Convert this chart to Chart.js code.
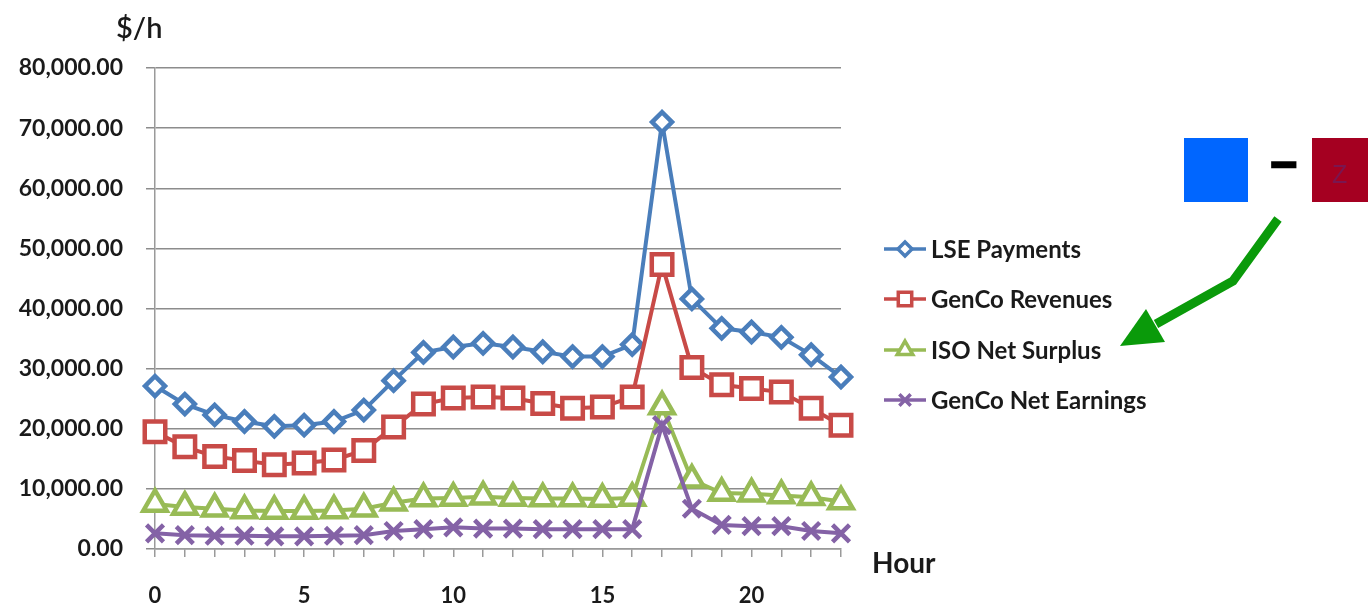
<!DOCTYPE html>
<html>
<head>
<meta charset="utf-8">
<script src="https://cdn.jsdelivr.net/npm/chart.js@4/dist/chart.umd.min.js"></script>
<style>
  html, body { margin: 0; padding: 0; background: #ffffff; }
  #wrap { position: relative; width: 1368px; height: 608px; overflow: hidden; }
  #chart { position: absolute; left: 0; top: 0; }
  .lbl { position: absolute; font-family: Lato, "Open Sans", sans-serif; color: #1a1a1a; white-space: nowrap; line-height: 1; }
  .box { position: absolute; }
</style>
</head>
<body>
<div id="wrap">
  <canvas id="chart" width="1368" height="608"></canvas>
  <div class="lbl" style="left:116px; top:12px; font-size:29px; font-weight:600;">$/h</div>
  <div class="lbl" style="left:872px; top:548px; font-size:28px; font-weight:700;">Hour</div>

  <div class="box" style="left:1184px; top:138px; width:64px; height:64px; background:#0066ff;"></div>
  <div class="lbl" style="left:1271px; top:138px; font-size:46px; font-weight:700; color:#000; -webkit-text-stroke:2.5px #000; font-family:'Liberation Sans', sans-serif;">–</div>
  <div class="box" style="left:1312px; top:138px; width:56px; height:64px; background:#a50021;"></div>
  <div class="lbl" style="left:1332px; top:162px; font-size:25px; color:#7a1650; font-family:'Liberation Sans', sans-serif;">Z</div>

  <svg class="box" style="left:0; top:0;" width="1368" height="608" viewBox="0 0 1368 608">
    <polyline points="1278,219 1233,281 1156,324" fill="none" stroke="#0a9a0a" stroke-width="9" stroke-linejoin="miter"/>
    <polygon points="1120,346 1146,309 1165,342" fill="#0a9a0a"/>
  </svg>
</div>
<script>
// Hourly settlement amounts ($/h) for a 24-hour day
const hours = ['0','1','2','3','4','5','6','7','8','9','10','11','12','13','14','15','16','17','18','19','20','21','22','23'];
const lsePayments     = [27100, 24100, 22300, 21200, 20400, 20600, 21200, 23100, 28000, 32700, 33600, 34200, 33600, 32800, 32000, 32000, 34000, 71000, 41600, 36700, 36100, 35200, 32300, 28600];
const gencoRevenues   = [19500, 17000, 15400, 14700, 14000, 14300, 14800, 16400, 20300, 24100, 25100, 25300, 25100, 24200, 23400, 23600, 25300, 47300, 30200, 27300, 26700, 26100, 23400, 20600];
const isoNetSurplus   = [7500, 7000, 6700, 6400, 6300, 6300, 6400, 6700, 7700, 8400, 8500, 8700, 8500, 8400, 8400, 8300, 8500, 23700, 11500, 9300, 9200, 8900, 8600, 7900];
const gencoNetEarning = [2600, 2300, 2200, 2200, 2100, 2100, 2200, 2300, 3000, 3300, 3600, 3400, 3400, 3300, 3300, 3300, 3300, 20600, 6700, 4000, 3800, 3800, 3000, 2600];
const yTicks = [0, 10000, 20000, 30000, 40000, 50000, 60000, 70000, 80000];
const seriesNames = ['LSE Payments', 'GenCo Revenues', 'ISO Net Surplus', 'GenCo Net Earnings'];

const COLORS = ['#4a7ebb', '#c84a47', '#98bb56', '#8462a6'];
const STYLES = ['rectRot', 'rect', 'triangle', 'crossRot'];
const RADII  = [10, 14.5, 13.5, 12];
const LEG_RADII = [7, 9.5, 9, 8];

function money(v) {
  const s = Math.round(v).toString().replace(/\B(?=(\d{3})+(?!\d))/g, ',');
  return s + '.00';
}

function drawMarker(ctx, style, r, x, y) {
  ctx.beginPath();
  if (style === 'rectRot') {
    ctx.moveTo(x - r, y); ctx.lineTo(x, y - r); ctx.lineTo(x + r, y); ctx.lineTo(x, y + r); ctx.closePath();
  } else if (style === 'rect') {
    const s = r * Math.SQRT1_2;
    ctx.rect(x - s, y - s, 2 * s, 2 * s);
  } else if (style === 'triangle') {
    for (let i = 0; i < 3; i++) {
      const a = i * 2 * Math.PI / 3;
      const px = x + Math.sin(a) * r, py = y - Math.cos(a) * r;
      if (i === 0) ctx.moveTo(px, py); else ctx.lineTo(px, py);
    }
    ctx.closePath();
  } else {
    const o = r * Math.SQRT1_2;
    ctx.moveTo(x - o, y - o); ctx.lineTo(x + o, y + o);
    ctx.moveTo(x + o, y - o); ctx.lineTo(x - o, y + o);
  }
  if (style !== 'crossRot') { ctx.fillStyle = '#fff'; ctx.fill(); }
  ctx.stroke();
}

// Legend on the right: short line with marker, then the series name
const sideLegend = {
  id: 'sideLegend',
  afterDraw(chart) {
    const ctx = chart.ctx;
    const ys = [249, 299, 350, 400];
    ctx.save();
    for (let i = 0; i < 4; i++) {
      const y = ys[i];
      ctx.strokeStyle = COLORS[i];
      ctx.lineWidth = 3.5;
      ctx.beginPath(); ctx.moveTo(884, y); ctx.lineTo(926, y); ctx.stroke();
      ctx.lineWidth = 3.5;
      drawMarker(ctx, STYLES[i], LEG_RADII[i], 905, y);
      ctx.fillStyle = '#1a1a1a';
      ctx.font = 'bold 24px Lato, "Open Sans", sans-serif';
      ctx.textBaseline = 'middle';
      ctx.textAlign = 'left';
      ctx.fillText(seriesNames[i], 931, y + 1);
    }
    ctx.restore();
  }
};

function ds(i, data) {
  return {
    label: seriesNames[i],
    data: data,
    borderColor: COLORS[i],
    borderWidth: 4,
    pointStyle: STYLES[i],
    pointRadius: RADII[i],
    pointHoverRadius: RADII[i],
    pointBorderWidth: 4.5,
    pointBorderColor: COLORS[i],
    pointBackgroundColor: '#ffffff',
    tension: 0,
    fill: false,
    order: 3 - i
  };
}

new Chart(document.getElementById('chart'), {
  type: 'line',
  data: {
    labels: hours,
    datasets: [ds(0, lsePayments), ds(1, gencoRevenues), ds(2, isoNetSurplus), ds(3, gencoNetEarning)]
  },
  options: {
    responsive: false,
    animation: false,
    devicePixelRatio: 1,
    layout: { padding: { top: 68, right: 527, left: 0, bottom: 0 } },
    plugins: { legend: { display: false }, tooltip: { enabled: false } },
    scales: {
      x: {
        type: 'category',
        offset: false,
        afterFit(scale) { scale.height = 59; },
        grid: { drawOnChartArea: false, drawTicks: true, tickLength: 8, color: '#9a9a9a', lineWidth: 1.5 },
        border: { display: true, color: '#9a9a9a', width: 1.5 },
        ticks: {
          autoSkip: false,
          maxRotation: 0,
          padding: 26,
          color: '#1a1a1a',
          font: { family: 'Lato, "Open Sans", sans-serif', size: 22, weight: 'bold' },
          callback(val, idx) { return idx % 5 === 0 ? hours[idx] : ''; }
        }
      },
      y: {
        min: yTicks[0],
        max: yTicks[yTicks.length - 1],
        afterFit(scale) { scale.width = 155; },
        afterBuildTicks(scale) { scale.ticks = yTicks.map(v => ({ value: v })); },
        grid: { color: '#8c8c8c', lineWidth: 1.5, tickLength: 9 },
        border: { display: true, color: '#9a9a9a', width: 1.5 },
        ticks: {
          padding: 23,
          color: '#1a1a1a',
          font: { family: 'Lato, "Open Sans", sans-serif', size: 23, weight: 'bold' },
          callback(v) { return money(v); }
        }
      }
    }
  },
  plugins: [sideLegend]
});
</script>
</body>
</html>
